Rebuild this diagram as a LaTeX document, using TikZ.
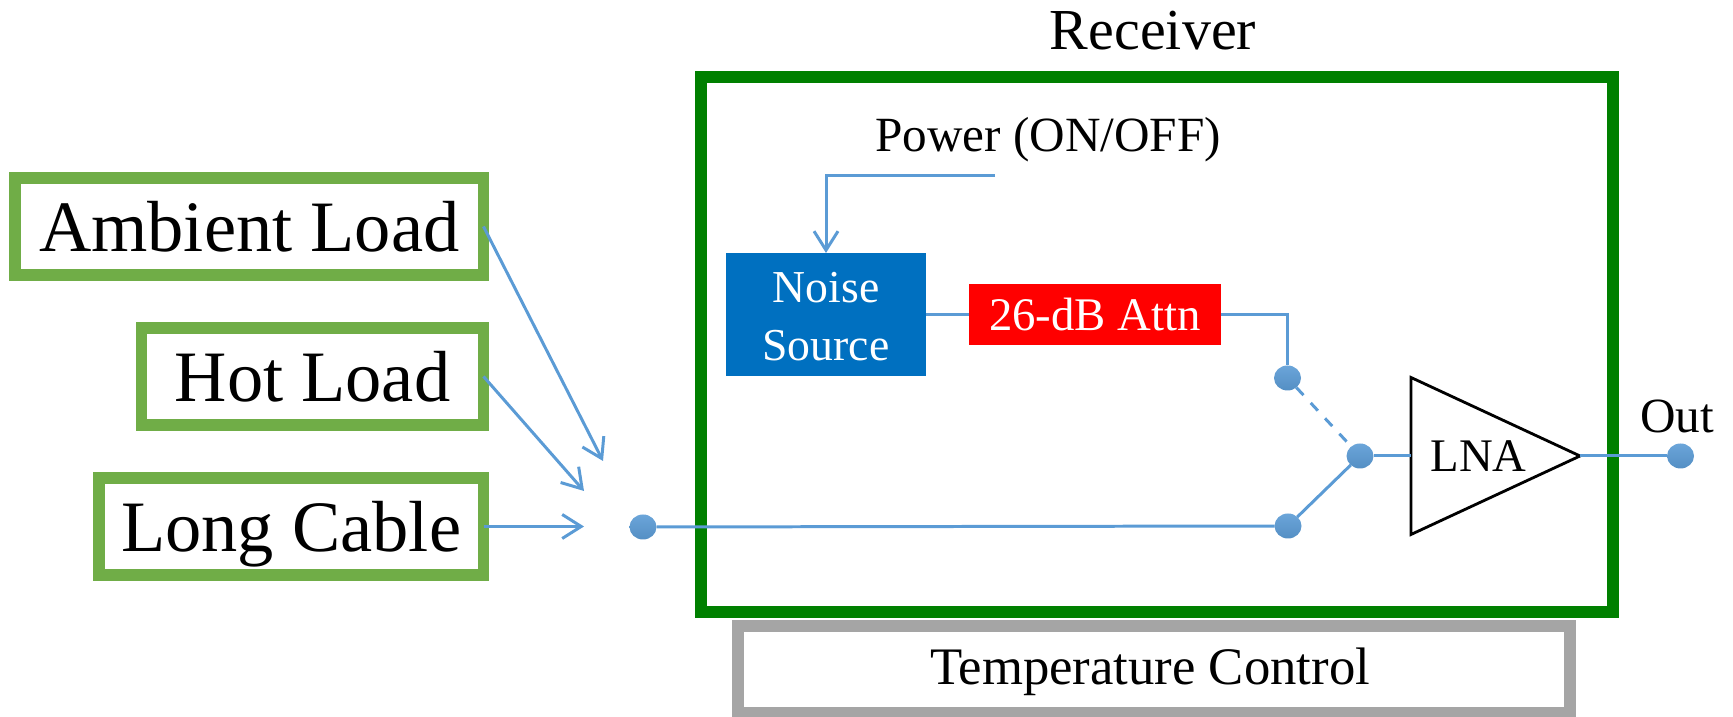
\documentclass[tikz,border=0pt]{standalone}
\usepackage{fontspec}
\setmainfont{Liberation Serif}
\usetikzlibrary{arrows.meta,shapes.geometric}
\definecolor{wireblue}{HTML}{5B9BD5}
\definecolor{rxgreen}{HTML}{008000}
\definecolor{loadgreen}{HTML}{70AD47}
\definecolor{ctrlgray}{HTML}{A5A5A5}
\definecolor{noiseblue}{HTML}{0070C0}
\tikzset{
    loadbox/.style={draw=loadgreen, line width=3.4pt, outer sep=0pt, inner sep=0pt, minimum height=0.97cm, text height=0.51cm, text depth=0pt, font=\fontsize{20.6}{24}\selectfont},
    fillbox/.style={text=white, inner sep=0pt, outer sep=0pt},
    wire/.style={wireblue, line width=0.85pt},
    arrowwire/.style={wire, -{Straight Barb[length=1.9mm,width=2.4mm]}},
    dot/.style={ellipse, inner sep=0pt, outer sep=0pt, minimum width=0.27cm, minimum height=0.25cm, top color=wireblue!90!white, bottom color=wireblue!92!black},
}
\begin{document}
\begin{tikzpicture}
    \useasboundingbox (0,0) rectangle (17.33,7.17);
    % receiver and temperature control
    \node[draw=rxgreen, line width=3.4pt, outer sep=0pt, minimum width=9.12cm, minimum height=5.35cm] (receiver) at (11.57,3.725) {};
    \node[font=\fontsize{16.5}{20}\selectfont, anchor=base] (rxlabel) at (11.53,6.67) {Receiver};
    \node[draw=ctrlgray, line width=3.4pt, outer sep=0pt, minimum width=8.32cm, minimum height=0.87cm, text height=0.34cm, text depth=0.03cm, font=\fontsize{15}{18}\selectfont] (tempctrl) at (11.54,0.475) {Temperature Control\hspace*{0.08cm}};
    % loads
    \node[loadbox, minimum width=4.685cm] (ambient) at (2.4925,4.905) {Ambient Load};
    \node[loadbox, minimum width=3.42cm] (hot) at (3.125,3.405) {Hot Load};
    \node[loadbox, minimum width=3.845cm] (cable) at (2.9125,1.905) {Long Cable};
    \coordinate (ambienttip) at (6.03,2.56);
    \coordinate (hottip) at (5.84,2.26);
    \coordinate (cabletip) at (5.84,1.905);
    \draw[arrowwire] (ambient.east) -- (ambienttip);
    \draw[arrowwire] (hot.east) -- (hottip);
    \draw[arrowwire] (cable.east) -- (cabletip);
    % signal path
    \node[fillbox, fill=noiseblue, minimum width=2.0cm, minimum height=1.23cm, align=center, text height=0.92cm, font=\fontsize{13}{16.5}\selectfont] (noise) at (8.26,4.025) {Noise\\Source};
    \node[fillbox, fill=red, minimum width=2.52cm, minimum height=0.61cm, font=\fontsize{13.3}{16}\selectfont] (attn) at (10.95,4.025) {26-dB Attn};
    \node[font=\fontsize{14}{18}\selectfont, anchor=base] (power) at (10.48,5.65) {Power (ON/OFF)};
    \coordinate (powerend) at (9.95,5.41);
    \node[draw, line width=0.8pt, isosceles triangle, isosceles triangle stretches, inner sep=0pt, outer sep=0pt, minimum width=1.57cm, minimum height=1.69cm, anchor=apex, font=\fontsize{13.3}{16}\selectfont] (lna) at (15.80,2.61) {\hspace*{0.11cm}LNA};
    \node[dot] (inport) at (6.43,1.90) {};
    \node[dot] (swa) at (12.875,3.39) {};
    \node[dot] (swb) at (12.88,1.91) {};
    \node[dot] (swc) at (13.60,2.61) {};
    \node[dot] (outport) at (16.805,2.61) {};
    \node[font=\fontsize{14}{17}\selectfont, anchor=base] (outlabel) at (16.77,2.84) {Out};
    \draw[arrowwire] (powerend) -| (noise.north);
    \draw[wire] (noise.east) -- (attn.west);
    \draw[wire] (attn.east) -| (swa.north);
    \draw[wire] (inport) -- (swb);
    \draw[wire, dashed] (swa) -- (swc);
    \draw[wire] (swb) -- (swc);
    \draw[wire] (swc) -- (lna.lower side);
    \draw[wire] (lna.apex) -- (outport);
\end{tikzpicture}
\end{document}
